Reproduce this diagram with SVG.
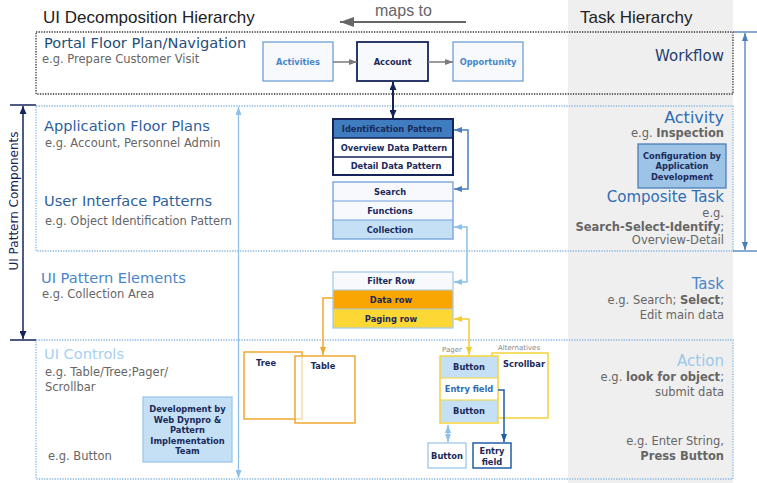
<svg xmlns="http://www.w3.org/2000/svg" width="757" height="483" viewBox="0 0 757 483">
<style>
.sans{font-family:"DejaVu Sans",Verdana,sans-serif}
.arial{font-family:"Liberation Sans",Arial,sans-serif}
.h1{font-size:14.6px}
.eg{font-size:11.5px;fill:#666}
.lbl{font-family:"DejaVu Sans",Verdana,sans-serif;font-size:8.3px;font-weight:bold;fill:#1a2a5a;text-anchor:middle}
.dotdark{fill:none;stroke:#333;stroke-width:1.3;stroke-dasharray:1.3 1.3}
.dotblue{fill:none;stroke:#86b6e2;stroke-width:1.3;stroke-dasharray:1.3 1.3}
.r{text-anchor:end}
</style>
<defs>
<marker id="mGrey" viewBox="0 0 8 6" refX="8" refY="3" markerWidth="8" markerHeight="6" markerUnits="userSpaceOnUse" orient="auto-start-reverse"><path d="M0,0L8,3L0,6z" fill="#7a7a7a"/></marker>
<marker id="mMaps" viewBox="0 0 14 10" refX="14" refY="5" markerWidth="14" markerHeight="10" markerUnits="userSpaceOnUse" orient="auto-start-reverse"><path d="M0,0L14,5L0,10z" fill="#666"/></marker>
<marker id="mNavy" viewBox="0 0 8 7" refX="8" refY="3.5" markerWidth="8" markerHeight="7" markerUnits="userSpaceOnUse" orient="auto-start-reverse"><path d="M0,0L8,3.5L0,7z" fill="#14245a"/></marker>
<marker id="mBlue" viewBox="0 0 8 6" refX="8" refY="3" markerWidth="8" markerHeight="6" markerUnits="userSpaceOnUse" orient="auto-start-reverse"><path d="M0,0L8,3L0,6z" fill="#4a7ebb"/></marker>
<marker id="mLight" viewBox="0 0 8 6" refX="8" refY="3" markerWidth="8" markerHeight="6" markerUnits="userSpaceOnUse" orient="auto-start-reverse"><path d="M0,0L8,3L0,6z" fill="#8dc0ea"/></marker>
<marker id="mOrange" viewBox="0 0 8 6" refX="8" refY="3" markerWidth="8" markerHeight="6" markerUnits="userSpaceOnUse" orient="auto-start-reverse"><path d="M0,0L8,3L0,6z" fill="#f0a830"/></marker>
<marker id="mYellow" viewBox="0 0 8 6" refX="8" refY="3" markerWidth="8" markerHeight="6" markerUnits="userSpaceOnUse" orient="auto-start-reverse"><path d="M0,0L8,3L0,6z" fill="#f2cc30"/></marker>
<marker id="mDark" viewBox="0 0 8 6" refX="8" refY="3" markerWidth="8" markerHeight="6" markerUnits="userSpaceOnUse" orient="auto-start-reverse"><path d="M0,0L8,3L0,6z" fill="#1f5fa8"/></marker>
</defs>
<rect width="757" height="483" fill="#fff"/>
<rect x="568" y="0" width="165" height="483" fill="#efefef"/>

<text class="arial" x="43" y="23" font-size="17" fill="#222">UI Decomposition  Hierarchy</text>
<text class="arial" x="580" y="23" font-size="17" fill="#222">Task Hierarchy</text>
<text class="arial" x="375" y="16" font-size="16" fill="#666">maps to</text>

<g id="sections">
<rect class="dotdark" x="36" y="32" width="697" height="62"/>
<rect class="dotblue" x="36" y="106" width="697" height="145"/>
<rect class="dotblue" x="36" y="340" width="697" height="139"/>
</g>

<g id="left-texts" class="sans">
<text class="h1" x="44" y="48" fill="#1f4e79">Portal Floor Plan/Navigation</text>
<text class="eg" x="42" y="63">e.g. Prepare Customer Visit</text>
<text class="h1" x="44" y="131" fill="#2e5f9e">Application Floor Plans</text>
<text class="eg" x="45" y="147">e.g. Account, Personnel Admin</text>
<text class="h1" x="44" y="206" fill="#2e5f9e">User Interface Patterns</text>
<text class="eg" x="45" y="225">e.g. Object Identification Pattern</text>
<text class="h1" x="41" y="283" fill="#4a86c8">UI Pattern Elements</text>
<text class="eg" x="42" y="298">e.g. Collection Area</text>
<text class="h1" x="44" y="359" fill="#a8d0f0">UI Controls</text>
<text class="eg" x="45" y="376">e.g. Table/Tree;Pager/</text>
<text class="eg" x="45" y="391">Scrollbar</text>
<text class="eg" x="48" y="460">e.g. Button</text>
<text font-size="12" fill="#14245a" transform="translate(17.5,201) rotate(-90)" text-anchor="middle">UI Pattern Components</text>
</g>

<g id="right-texts" class="sans r">
<text x="724" y="61" font-size="15" fill="#1f3d6e">Workflow</text>
<text x="724" y="123" font-size="16" fill="#2e6db4">Activity</text>
<text x="724" y="137" font-size="11.5" fill="#666">e.g. <tspan font-weight="bold">Inspection</tspan></text>
<text x="724" y="202" font-size="15" fill="#2e6db4">Composite Task</text>
<text x="724" y="217" font-size="11.5" fill="#666">e.g.</text>
<text x="724" y="230.5" font-size="11.5" fill="#666" font-weight="bold">Search-Select-Identify<tspan font-weight="normal">;</tspan></text>
<text x="724" y="244" font-size="11.5" fill="#666">Overview-Detail</text>
<text x="724" y="289" font-size="15" fill="#4a86c8">Task</text>
<text x="724" y="304" font-size="11.5" fill="#666">e.g. Search; <tspan font-weight="bold">Select</tspan>;</text>
<text x="724" y="319" font-size="11.5" fill="#666">Edit main data</text>
<text x="724" y="366" font-size="15" fill="#9cc8ec">Action</text>
<text x="724" y="381" font-size="11.5" fill="#666">e.g. <tspan font-weight="bold">look for object</tspan>;</text>
<text x="724" y="396" font-size="11.5" fill="#666">submit data</text>
<text x="724" y="445" font-size="11.5" fill="#666">e.g. Enter String,</text>
<text x="724" y="460" font-size="11.5" fill="#666" font-weight="bold">Press Button</text>
</g>

<g id="node-activities">
<rect x="263" y="42" width="70" height="39" fill="#f7f9fc" stroke="#6fa0d8" stroke-width="1.3"/>
<text class="lbl" x="298" y="64.5" style="fill:#4a86c8">Activities</text>
</g>
<g id="node-account">
<rect x="357" y="42" width="71" height="39" fill="#f7f9fc" stroke="#14245a" stroke-width="1.8"/>
<text class="lbl" x="392.5" y="64.5">Account</text>
</g>
<g id="node-opportunity">
<rect x="453" y="42" width="70" height="39" fill="#f7f9fc" stroke="#6fa0d8" stroke-width="1.3"/>
<text class="lbl" x="488" y="64.5" style="fill:#4a86c8">Opportunity</text>
</g>

<g id="node-patterns">
<rect x="333" y="119" width="120" height="19" fill="#3f7cc0"/>
<rect x="333" y="138" width="120" height="19" fill="#fff"/>
<rect x="333" y="157" width="120" height="18" fill="#fff"/>
<line x1="333" y1="138" x2="453" y2="138" stroke="#14245a" stroke-width="1.3"/>
<line x1="333" y1="157" x2="453" y2="157" stroke="#14245a" stroke-width="1.3"/>
<rect x="333" y="119" width="120" height="56" fill="none" stroke="#14245a" stroke-width="2"/>
<text class="lbl" x="392" y="131.5">Identification Pattern</text>
<text class="lbl" x="394" y="150.5">Overview Data Pattern</text>
<text class="lbl" x="396" y="169">Detail Data Pattern</text>
</g>

<g id="node-uip-elements">
<rect x="333" y="182" width="120" height="19" fill="#f7f9fc"/>
<rect x="333" y="201" width="120" height="19" fill="#f7f9fc"/>
<rect x="333" y="220" width="120" height="19" fill="#c5e0f5"/>
<line x1="333" y1="201" x2="453" y2="201" stroke="#6fa0d8" stroke-width="1.2"/>
<line x1="333" y1="220" x2="453" y2="220" stroke="#6fa0d8" stroke-width="1.2"/>
<rect x="333" y="182" width="120" height="57" fill="none" stroke="#6fa0d8" stroke-width="1.3"/>
<text class="lbl" x="390" y="194.5">Search</text>
<text class="lbl" x="390" y="213.5">Functions</text>
<text class="lbl" x="390" y="232.5">Collection</text>
</g>

<g id="node-collection-area">
<rect x="333" y="272" width="120" height="18" fill="#f7f9fc"/>
<rect x="333" y="290" width="120" height="19" fill="#f9a602"/>
<rect x="333" y="309" width="120" height="19" fill="#fdd835"/>
<line x1="333" y1="290" x2="453" y2="290" stroke="#a9cbe8" stroke-width="1"/>
<line x1="333" y1="309" x2="453" y2="309" stroke="#a9cbe8" stroke-width="1"/>
<rect x="333" y="272" width="120" height="56" fill="none" stroke="#a9cbe8" stroke-width="1.3"/>
<text class="lbl" x="391" y="284">Filter Row</text>
<text class="lbl" x="391" y="303">Data row</text>
<text class="lbl" x="391" y="322">Paging row</text>
</g>

<g id="node-dev">
<rect x="143" y="397" width="89" height="65" fill="#c5e0f5" stroke="#9cc8ec" stroke-width="1.3"/>
<text class="lbl" x="187.5" y="412">Development by</text>
<text class="lbl" x="187.5" y="422.5">Web Dynpro &amp;</text>
<text class="lbl" x="187.5" y="433">Pattern</text>
<text class="lbl" x="187.5" y="443.5">Implementation</text>
<text class="lbl" x="187.5" y="454">Team</text>
</g>

<g id="node-config">
<rect x="638" y="144" width="88" height="44" fill="#9dc3e6" stroke="#4a7ebb" stroke-width="1.3"/>
<text class="lbl" x="682" y="158.5">Configuration by</text>
<text class="lbl" x="682" y="169">Application</text>
<text class="lbl" x="682" y="179.5">Development</text>
</g>

<g id="node-tree">
<rect x="244" y="352" width="58" height="67" fill="#fff" stroke="#f0a830" stroke-width="1.5"/>
<text class="lbl" x="266" y="366">Tree</text>
</g>
<g id="node-table">
<rect x="295" y="356" width="60" height="67" fill="#fff" fill-opacity="0.6" stroke="#f0a830" stroke-width="1.5"/>
<text class="lbl" x="323" y="369">Table</text>
</g>

<g id="node-scrollbar">
<rect x="492" y="353" width="56" height="65" fill="#fff" stroke="#f5d33a" stroke-width="1.5"/>
<text class="lbl" x="524" y="367">Scrollbar</text>
<text class="sans" x="498" y="350" font-size="7" fill="#888">Alternatives</text>
</g>
<g id="node-pager">
<rect x="440" y="356" width="58" height="22" fill="#c5e0f5"/>
<rect x="440" y="378" width="58" height="22" fill="#fff"/>
<rect x="440" y="400" width="58" height="22" fill="#c5e0f5"/>
<line x1="440" y1="378" x2="498" y2="378" stroke="#f5d33a" stroke-width="1.2"/>
<line x1="440" y1="400" x2="498" y2="400" stroke="#f5d33a" stroke-width="1.2"/>
<rect x="440" y="356" width="58" height="67" fill="none" stroke="#f5d33a" stroke-width="1.5"/>
<text class="lbl" x="469" y="370">Button</text>
<text class="lbl" x="469" y="392" style="fill:#2e6db4">Entry field</text>
<text class="lbl" x="469" y="414">Button</text>
<text class="sans" x="442" y="352" font-size="7" fill="#888">Pager</text>
</g>

<g id="node-button">
<rect x="428" y="443" width="38" height="25" fill="#fff" stroke="#9cc8ec" stroke-width="1.3"/>
<text class="lbl" x="447" y="458.5">Button</text>
</g>
<g id="node-entryfield">
<rect x="473" y="443" width="38" height="25" fill="#fff" stroke="#1f5fa8" stroke-width="1.5"/>
<text class="lbl" x="492" y="454">Entry</text>
<text class="lbl" x="492" y="465">field</text>
</g>

<g id="connectors" fill="none">
<line x1="466" y1="22" x2="340" y2="22" stroke="#666" stroke-width="2" marker-end="url(#mMaps)"/>
<line x1="333" y1="62" x2="357" y2="62" stroke="#7a7a7a" stroke-width="1.5" marker-end="url(#mGrey)"/>
<line x1="428" y1="62" x2="453" y2="62" stroke="#7a7a7a" stroke-width="1.5" marker-end="url(#mGrey)"/>
<line x1="393" y1="82" x2="393" y2="118" stroke="#14245a" stroke-width="2" marker-start="url(#mNavy)" marker-end="url(#mNavy)"/>
<polyline points="454,189 468,189 468,130 454,130" stroke="#4a7ebb" stroke-width="1.5" marker-start="url(#mBlue)" marker-end="url(#mBlue)"/>
<polyline points="454,227 467,227 467,282 454,282" stroke="#8dc0ea" stroke-width="1.5" marker-start="url(#mLight)" marker-end="url(#mLight)"/>
<polyline points="333,298 323,298 323,355" stroke="#f0a830" stroke-width="1.5" marker-end="url(#mOrange)"/>
<polyline points="454,319 469,319 469,355" stroke="#f2cc30" stroke-width="1.5" marker-start="url(#mYellow)" marker-end="url(#mYellow)"/>
<polyline points="498,390 504,390 504,442" stroke="#1f5fa8" stroke-width="1.5" marker-end="url(#mDark)"/>
<line x1="448" y1="425" x2="448" y2="442" stroke="#8dc0ea" stroke-width="1.5" marker-start="url(#mLight)" marker-end="url(#mLight)"/>
<line x1="238.5" y1="107" x2="238.5" y2="478" stroke="#8dc0ea" stroke-width="1.3" marker-start="url(#mLight)" marker-end="url(#mLight)"/>
<line x1="23" y1="106" x2="23" y2="339" stroke="#14245a" stroke-width="1.5" marker-start="url(#mNavy)" marker-end="url(#mNavy)"/>
<line x1="10" y1="105" x2="36" y2="105" stroke="#14245a" stroke-width="1.5"/>
<line x1="10" y1="340" x2="36" y2="340" stroke="#14245a" stroke-width="1.5"/>
<line x1="745" y1="33" x2="745" y2="250" stroke="#4a7ebb" stroke-width="1.3" marker-start="url(#mBlue)" marker-end="url(#mBlue)"/>
<line x1="733" y1="32" x2="757" y2="32" stroke="#4a7ebb" stroke-width="1.3"/>
<line x1="733" y1="251" x2="757" y2="251" stroke="#4a7ebb" stroke-width="1.3"/>
</g>
</svg>
